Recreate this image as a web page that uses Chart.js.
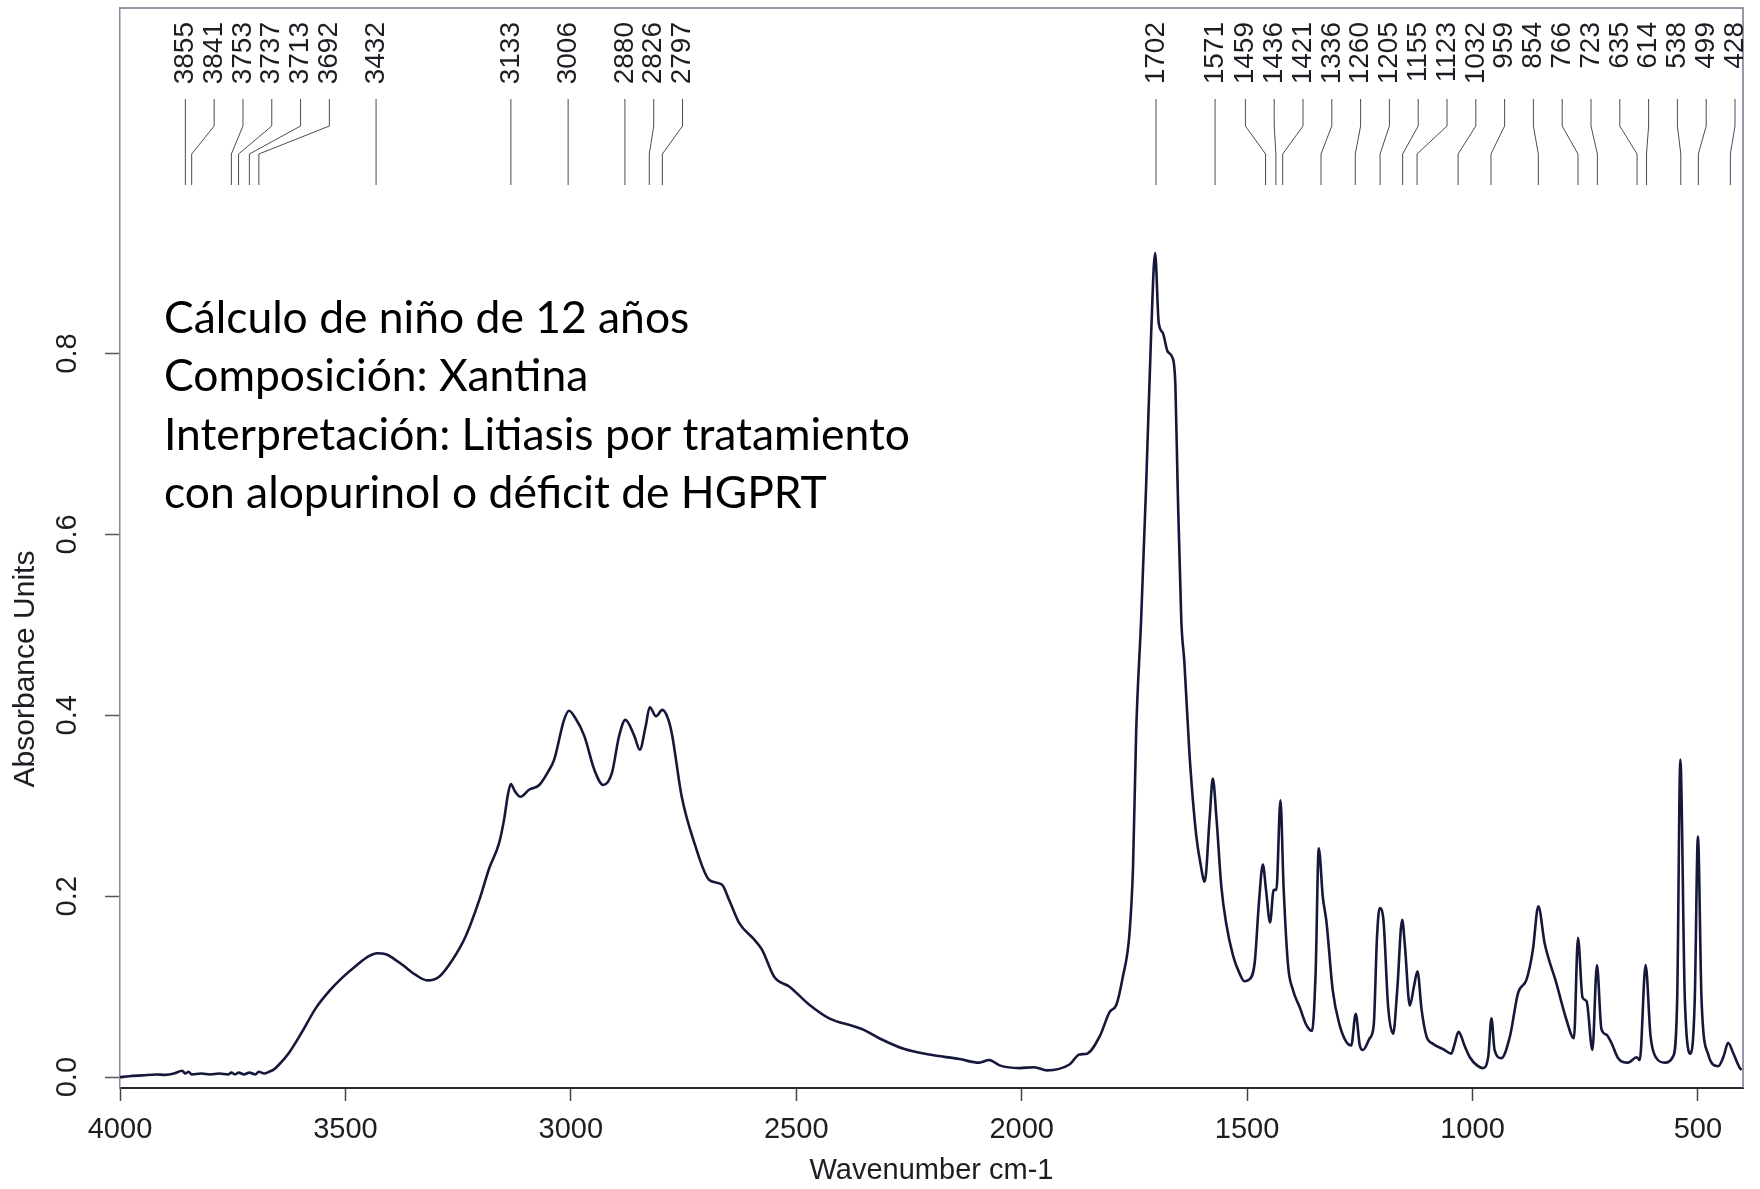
<!DOCTYPE html>
<html>
<head>
<meta charset="utf-8">
<script src="https://cdn.jsdelivr.net/npm/chart.js@4.4.1/dist/chart.umd.min.js"></script>
<style>
  html, body { margin: 0; padding: 0; background: #fff; }
  #wrap { width: 1760px; height: 1189px; }
</style>
</head>
<body>
<div id="wrap"><canvas id="spectrum" width="1760" height="1189"></canvas></div>
<script>
// IR spectrum (cm-1 / absorbance units)
const wavenumbers = [
  4000, 3980, 3950, 3920, 3900, 3880, 3862, 3855, 3848, 3841, 3820, 3800, 3780, 3760, 3753, 3745,
  3737, 3725, 3713, 3700, 3692, 3680, 3669, 3660, 3647, 3625, 3595, 3566, 3536, 3507, 3477, 3447,
  3430, 3410, 3390, 3373, 3344, 3318, 3292, 3262, 3233, 3203, 3181, 3159, 3148, 3139, 3133, 3124,
  3112, 3092, 3070, 3050, 3037, 3015, 3004, 2990, 2970, 2948, 2928, 2909, 2893, 2879, 2859, 2847,
  2834, 2825, 2811, 2797, 2785, 2776, 2754, 2726, 2693, 2665, 2649, 2626, 2593, 2576, 2549, 2515,
  2471, 2427, 2371, 2349, 2316, 2260, 2205, 2138, 2094, 2072, 2049, 2005, 1972, 1944, 1894, 1872,
  1855, 1827, 1805, 1790, 1776, 1761, 1753, 1746, 1735, 1724, 1713, 1704, 1696, 1687, 1676, 1665,
  1659, 1654, 1646, 1639, 1628, 1613, 1603, 1594, 1583, 1576, 1568, 1557, 1546, 1531, 1517, 1506,
  1495, 1483, 1474, 1465, 1458, 1449, 1441, 1435, 1426, 1419, 1409, 1398, 1383, 1369, 1356, 1348,
  1341, 1332, 1324, 1310, 1295, 1280, 1269, 1259, 1250, 1243, 1228, 1219, 1212, 1206, 1198, 1187,
  1176, 1167, 1156, 1150, 1139, 1130, 1122, 1113, 1102, 1088, 1065, 1047, 1040, 1031, 1017, 1006,
  990, 977, 965, 958, 951, 936, 917, 899, 880, 866, 854, 840, 814, 792, 775, 766,
  756, 747, 734, 724, 714, 703, 692, 677, 655, 636, 629, 616, 605, 592, 573, 555,
  546, 539, 529, 516, 507, 500, 492, 477, 455, 443, 433, 422, 407, 403
];
const absorbance = [
  0.000, 0.001, 0.002, 0.003, 0.0025, 0.004, 0.007, 0.004, 0.006, 0.003, 0.004, 0.003, 0.004, 0.003, 0.005, 0.003,
  0.005, 0.003, 0.005, 0.003, 0.006, 0.004, 0.006, 0.008, 0.014, 0.027, 0.051, 0.076, 0.095, 0.110, 0.123, 0.134,
  0.137, 0.136, 0.130, 0.124, 0.113, 0.107, 0.111, 0.130, 0.156, 0.196, 0.231, 0.259, 0.285, 0.314, 0.324, 0.316,
  0.310, 0.318, 0.323, 0.338, 0.351, 0.395, 0.405, 0.397, 0.377, 0.340, 0.323, 0.336, 0.377, 0.395, 0.377, 0.362,
  0.388, 0.409, 0.399, 0.406, 0.397, 0.380, 0.310, 0.259, 0.218, 0.213, 0.196, 0.170, 0.152, 0.141, 0.111, 0.100,
  0.080, 0.065, 0.056, 0.052, 0.043, 0.031, 0.025, 0.020, 0.016, 0.019, 0.013, 0.010, 0.011, 0.0075, 0.014, 0.025,
  0.026, 0.045, 0.072, 0.080, 0.110, 0.158, 0.232, 0.382, 0.506, 0.653, 0.819, 0.911, 0.834, 0.823, 0.802, 0.795,
  0.764, 0.653, 0.506, 0.458, 0.359, 0.268, 0.235, 0.216, 0.287, 0.330, 0.287, 0.210, 0.169, 0.134, 0.115, 0.106,
  0.108, 0.127, 0.191, 0.235, 0.207, 0.171, 0.207, 0.207, 0.306, 0.210, 0.123, 0.096, 0.077, 0.058, 0.051, 0.115,
  0.253, 0.199, 0.172, 0.096, 0.058, 0.039, 0.035, 0.070, 0.035, 0.030, 0.043, 0.058, 0.153, 0.187, 0.176, 0.077,
  0.048, 0.096, 0.174, 0.146, 0.079, 0.100, 0.117, 0.075, 0.045, 0.037, 0.031, 0.026, 0.036, 0.050, 0.034, 0.022,
  0.013, 0.010, 0.023, 0.065, 0.030, 0.021, 0.045, 0.093, 0.108, 0.141, 0.189, 0.148, 0.104, 0.064, 0.043, 0.154,
  0.088, 0.084, 0.030, 0.124, 0.053, 0.047, 0.038, 0.021, 0.016, 0.022, 0.019, 0.124, 0.045, 0.021, 0.016, 0.023,
  0.086, 0.351, 0.086, 0.026, 0.086, 0.266, 0.086, 0.025, 0.012, 0.023, 0.038, 0.027, 0.010, 0.008
];
const peakLabels = [
  3855, 3841, 3753, 3737, 3713, 3692, 3432, 3133, 3006, 2880, 2826, 2797,
  1702, 1571, 1459, 1436, 1421, 1336, 1260, 1205, 1155, 1123, 1032, 959,
  854, 766, 723, 635, 614, 538, 499, 428
];
const xTicks = [4000, 3500, 3000, 2500, 2000, 1500, 1000, 500];
const yTicks = [0, 0.2, 0.4, 0.6, 0.8];
const noteLines = [
  'Cálculo de niño de 12 años',
  'Composición: Xantina',
  'Interpretación: Litiasis por tratamiento',
  'con alopurinol o déficit de HGPRT'
];

const axisFont = 'Liberation Sans, Arial, sans-serif';
const ink = '#1d1d24';

// frame, peak picks, y title and the note drawn on top of the chart
const overlay = {
    id: 'overlay',
    afterDraw: function (chart) {
        const ctx = chart.ctx
        const area = chart.chartArea
        const xs = chart.scales.x

        ctx.save()
        ctx.strokeStyle = '#77758a'
        ctx.lineWidth = 1.5
        ctx.beginPath()
        ctx.moveTo(area.left, area.top)
        ctx.lineTo(area.right, area.top)
        ctx.lineTo(area.right, area.bottom)
        ctx.stroke()

        // peak labels: pushed right to keep a fixed gap, then pulled back inside the frame
        const gap = 28.8
        const peakPx = peakLabels.map(function (w) { return xs.getPixelForValue(w) })
        const labelPx = peakPx.slice()
        for (let i = 1; i < labelPx.length; i++) {
            labelPx[i] = Math.max(labelPx[i], labelPx[i - 1] + gap)
        }
        labelPx[labelPx.length - 1] = Math.min(labelPx[labelPx.length - 1], area.right - 8)
        for (let i = labelPx.length - 2; i >= 0; i--) {
            labelPx[i] = Math.min(labelPx[i], labelPx[i + 1] - gap)
        }

        ctx.font = '28px ' + axisFont
        ctx.fillStyle = ink
        ctx.strokeStyle = '#4a4a55'
        ctx.lineWidth = 1
        peakLabels.forEach(function (w, i) {
            const px = peakPx[i]
            const lx = labelPx[i]
            ctx.save()
            ctx.translate(lx, area.top + 14)
            ctx.rotate(-Math.PI / 2)
            ctx.textAlign = 'right'
            ctx.textBaseline = 'middle'
            ctx.fillText(String(w), 0, 0)
            ctx.restore()
            ctx.beginPath()
            ctx.moveTo(lx, area.top + 91)
            ctx.lineTo(lx, area.top + 118)
            ctx.lineTo(px, area.top + 146)
            ctx.lineTo(px, area.top + 177)
            ctx.stroke()
        })

        // y axis title
        ctx.save()
        ctx.translate(area.left - 94, area.top + 661)
        ctx.rotate(-Math.PI / 2)
        ctx.font = '30px ' + axisFont
        ctx.textAlign = 'center'
        ctx.textBaseline = 'middle'
        ctx.fillText('Absorbance Units', 0, 0)
        ctx.restore()

        // note text, sized so the longest line spans the same width as the scan
        ctx.font = '100px Lato'
        const wide = Math.max.apply(null, noteLines.map(function (t) { return ctx.measureText(t).width }))
        const size = 100 * 746 / wide
        ctx.font = size.toFixed(1) + 'px Lato'
        ctx.fillStyle = '#000'
        ctx.textAlign = 'left'
        ctx.textBaseline = 'alphabetic'
        noteLines.forEach(function (t, i) {
            ctx.fillText(t, area.left + 44, area.top + 325 + i * 58.4)
        })
        ctx.restore()
    }
}

const points = wavenumbers.map(function (w, i) { return { x: w, y: absorbance[i] } })

new Chart(document.getElementById('spectrum'), {
    type: 'line',
    data: {
        datasets: [{
            data: points,
            borderColor: '#15183a',
            borderWidth: 2.6,
            pointRadius: 0,
            fill: false,
            cubicInterpolationMode: 'monotone'
        }]
    },
    options: {
        responsive: false,
        animation: false,
        devicePixelRatio: 1,
        layout: { padding: { top: 8, right: 17, left: 0, bottom: 0 } },
        plugins: { legend: { display: false }, tooltip: { enabled: false } },
        scales: {
            x: {
                type: 'linear',
                reverse: true,
                min: 400,
                max: 4000,
                afterBuildTicks: function (s) { s.ticks = xTicks.map(function (v) { return { value: v } }) },
                afterFit: function (s) {
                    s.height = 101
                    s.paddingLeft = 0
                    s.paddingRight = 0
                },
                grid: { drawOnChartArea: false, drawTicks: true, tickLength: 13, tickColor: '#444', tickWidth: 1.5 },
                border: { display: true, color: '#2a2a30', width: 2 },
                ticks: {
                    autoSkip: false, minRotation: 0, maxRotation: 0, padding: 12, color: ink,
                    font: { family: axisFont, size: 29 },
                    callback: function (v) { return String(v) }
                },
                title: {
                    display: true, text: 'Wavenumber cm-1', color: ink,
                    font: { family: axisFont, size: 29 }, padding: { top: 0, bottom: 1 }
                }
            },
            y: {
                min: -0.012,
                max: 1.182,
                afterBuildTicks: function (s) { s.ticks = yTicks.map(function (v) { return { value: v } }) },
                afterFit: function (s) {
                    s.width = 120
                    s.paddingTop = 0
                    s.paddingBottom = 0
                },
                grid: { drawOnChartArea: false, drawTicks: true, tickLength: 15, tickColor: '#555', tickWidth: 1.5 },
                border: { display: true, color: '#8a88a0', width: 1.5 },
                ticks: {
                    minRotation: 90, maxRotation: 90, crossAlign: 'center', padding: 17, color: ink,
                    font: { family: axisFont, size: 29 },
                    callback: function (v) { return v.toFixed(1) }
                }
            }
        }
    },
    plugins: [overlay]
});
</script>
</body>
</html>
